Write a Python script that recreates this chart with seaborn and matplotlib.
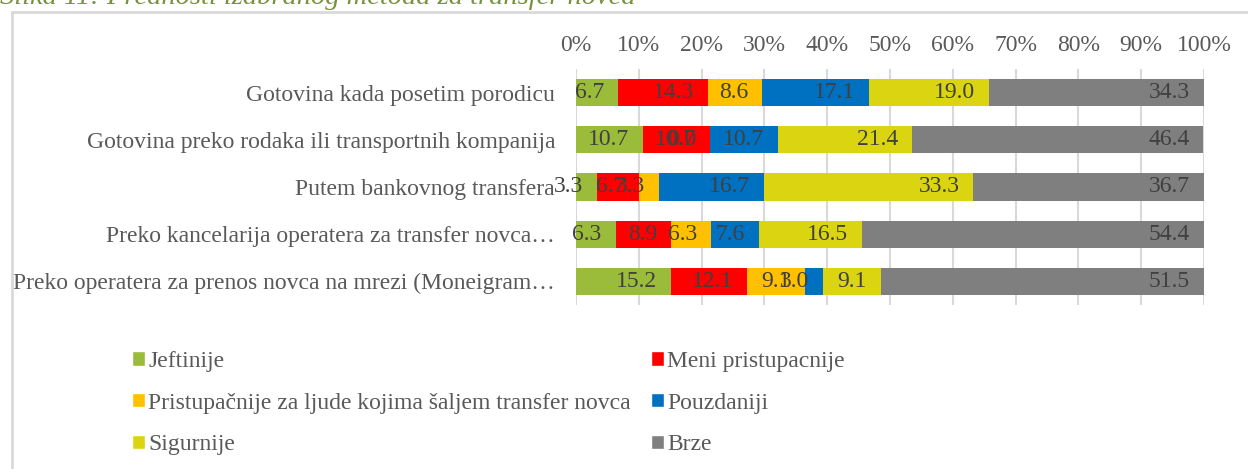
import numpy as np
import pandas as pd
import matplotlib.pyplot as plt
import seaborn as sns
from matplotlib.patches import Patch

# Categories (top to bottom) and series values (percent)
categories = [
    "Gotovina kada posetim porodicu",
    "Gotovina preko rodaka ili transportnih kompanija",
    "Putem bankovnog transfera",
    "Preko kancelarija operatera za transfer novca…",
    "Preko operatera za prenos novca na mrezi (Moneigram…",
]
series_names = ["Jeftinije", "Meni pristupacnije",
                "Pristupačnije za ljude kojima šaljem transfer novca",
                "Pouzdaniji", "Sigurnije", "Brze"]
jeftinije = [6.7, 10.7, 3.3, 6.3, 15.2]
meni_pristupacnije = [14.3, 10.7, 6.7, 8.9, 12.1]
pristupacnije_ljude = [8.6, 0.0, 3.3, 6.3, 9.1]
pouzdaniji = [17.1, 10.7, 16.7, 7.6, 3.0]
sigurnije = [19.0, 21.4, 33.3, 16.5, 9.1]
brze = [34.3, 46.4, 36.7, 54.4, 51.5]
colors = ["#9BBB3B", "#FF0000", "#FFC000", "#0070C0", "#DAD510", "#7F7F7F"]
x_ticks = list(range(0, 101, 10))

sns.set_style("white")
plt.rcParams['font.family'] = ['Liberation Serif', 'DejaVu Serif']
FS = 17

df = pd.DataFrame({"category": categories})
for name, vals in zip(series_names, [jeftinije, meni_pristupacnije, pristupacnije_ljude,
                                     pouzdaniji, sigurnije, brze]):
    df[name] = vals
cum = df[series_names].cumsum(axis=1)

fig = plt.figure(figsize=(12.48, 4.69), dpi=100)
ax = fig.add_axes([0.4615, 0.3497, 0.5032, 0.5032])

# stacked bars: draw cumulative totals from the last series to the first
for name, col in reversed(list(zip(series_names, colors))):
    sns.barplot(x=cum[name], y=df["category"], color=col, orient="h", width=0.58,
                saturation=1, linewidth=0, errorbar=None, ax=ax, zorder=2)

# data labels at inside end of each segment
for name in series_names:
    for j in range(len(categories)):
        ax.annotate(f"{df[name][j]:.1f}", xy=(cum[name][j], j), xytext=(-10, 0),
                    textcoords="offset points", ha="right", va="center",
                    fontsize=FS, color="#404040", zorder=3)

ax.set_xlim(0, 100)
ax.set_xticks(x_ticks)
ax.set_xticklabels([f"{t}%" for t in x_ticks])
ax.xaxis.tick_top()
ax.tick_params(axis="x", length=0, pad=9, labelsize=FS, labelcolor="#595959")
ax.tick_params(axis="y", length=0, pad=15, labelsize=FS, labelcolor="#595959")
ax.set_xlabel("")
ax.set_ylabel("")
ax.grid(axis="x", color="#D9D9D9", linewidth=1.5, zorder=0)
ax.set_axisbelow(True)
for s in ax.spines.values():
    s.set_visible(False)

# legend, row-major order like the original
order = [0, 2, 4, 1, 3, 5]
handles = [Patch(facecolor=colors[i], label=series_names[i]) for i in order]
fig.legend(handles=handles, ncol=2, loc="upper left", bbox_to_anchor=(0.098, 0.272),
           frameon=False, fontsize=FS, handlelength=0.55, handleheight=0.55,
           handletextpad=0.15, columnspacing=0.85, labelspacing=0.88,
           labelcolor="#595959", borderaxespad=0)

# outer chart frame and clipped caption
fig.add_artist(plt.Line2D([0.0096, 0.0096], [0, 1 - 12 / 469], color="#D9D9D9",
                          linewidth=2, transform=fig.transFigure))
fig.add_artist(plt.Line2D([0.0096, 1.0], [1 - 12 / 469, 1 - 12 / 469], color="#D9D9D9",
                          linewidth=2, transform=fig.transFigure))
fig.text(0.0, 1 - 4 / 469, "Slika 11: Prednosti izabranog metoda za transfer novca",
         fontsize=20.5, style="italic", color="#76923C", va="baseline", ha="left")

fig.savefig("out.png", dpi=100)
